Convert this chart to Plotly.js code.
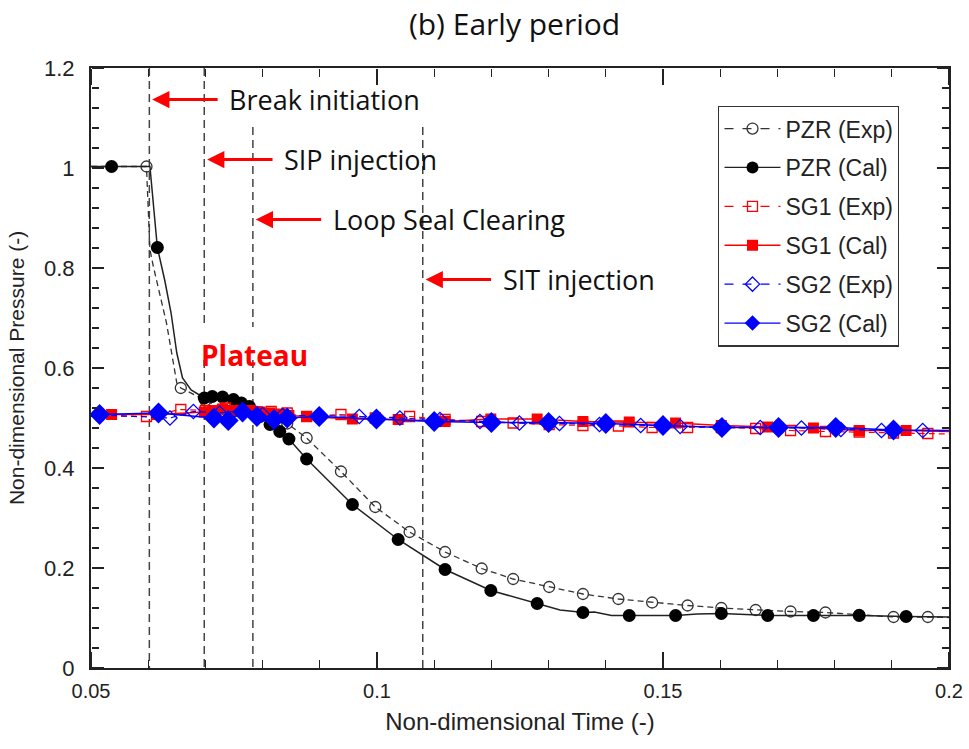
<!DOCTYPE html>
<html>
<head>
<meta charset="utf-8">
<script src="https://cdn.plot.ly/plotly-3.0.1.min.js"></script>
<style>html,body{margin:0;padding:0;background:#fff;}#chart{width:969px;height:749px;}</style>
</head>
<body>
<div id="chart"></div>
<script>
// ---------- data ----------
const seriesNames = ['PZR (Exp)', 'PZR (Cal)', 'SG1 (Exp)', 'SG1 (Cal)', 'SG2 (Exp)', 'SG2 (Cal)'];

// PZR calculated: marker points
const pzrCalTime = [0.0536, 0.0616, 0.0698, 0.0712, 0.0730, 0.0749, 0.0763, 0.0777, 0.0795, 0.0813, 0.0830, 0.0846, 0.0877, 0.0957, 0.1037, 0.1119, 0.1199, 0.1280, 0.1360, 0.1441, 0.1522, 0.1602, 0.1683, 0.1763, 0.1843, 0.1925];
const pzrCalValue = [1.003, 0.841, 0.540, 0.543, 0.542, 0.537, 0.530, 0.523, 0.503, 0.487, 0.473, 0.458, 0.418, 0.327, 0.257, 0.197, 0.155, 0.129, 0.111, 0.105, 0.105, 0.109, 0.105, 0.105, 0.105, 0.103];
// PZR calculated: curve vertices
const pzrCalLineTime = [0.05, 0.0536, 0.0603, 0.0616, 0.0629, 0.0640, 0.0650, 0.0660, 0.0675, 0.0698, 0.0712, 0.0730, 0.0749, 0.0763, 0.0777, 0.0795, 0.0813, 0.0830, 0.0846, 0.0877, 0.0957, 0.1037, 0.1119, 0.1199, 0.1280, 0.1320, 0.1345, 0.1360, 0.1380, 0.1395, 0.1410, 0.1441, 0.1522, 0.1560, 0.1602, 0.1683, 0.1763, 0.1843, 0.1925, 0.2000];
const pzrCalLineValue = [1.003, 1.003, 1.003, 0.841, 0.775, 0.710, 0.630, 0.580, 0.556, 0.540, 0.543, 0.542, 0.537, 0.530, 0.523, 0.503, 0.487, 0.473, 0.458, 0.418, 0.327, 0.257, 0.197, 0.155, 0.129, 0.116, 0.113, 0.111, 0.112, 0.108, 0.105, 0.105, 0.105, 0.108, 0.109, 0.105, 0.105, 0.105, 0.103, 0.102];

// PZR experiment: marker points
const pzrExpTime = [0.0597, 0.0657, 0.0700, 0.0735, 0.0762, 0.0790, 0.0815, 0.0843, 0.0877, 0.0937, 0.0997, 0.1057, 0.1119, 0.1183, 0.1238, 0.1301, 0.1360, 0.1422, 0.1481, 0.1543, 0.1602, 0.1662, 0.1723, 0.1784, 0.1843, 0.1903, 0.1963];
const pzrExpValue = [1.003, 0.560, 0.535, 0.516, 0.520, 0.512, 0.502, 0.489, 0.460, 0.393, 0.322, 0.272, 0.232, 0.199, 0.178, 0.162, 0.148, 0.138, 0.131, 0.125, 0.120, 0.116, 0.113, 0.111, 0.106, 0.102, 0.102];
// PZR experiment: curve vertices
const pzrExpLineTime = [0.05, 0.0597, 0.0603, 0.0609, 0.0632, 0.0650, 0.0657, 0.0700, 0.0735, 0.0762, 0.0790, 0.0815, 0.0843, 0.0877, 0.0937, 0.0997, 0.1057, 0.1119, 0.1183, 0.1238, 0.1301, 0.1360, 0.1422, 0.1481, 0.1543, 0.1602, 0.1662, 0.1723, 0.1784, 0.1843, 0.1903, 0.1963, 0.2000];
const pzrExpLineValue = [1.003, 1.003, 0.837, 0.803, 0.690, 0.570, 0.560, 0.535, 0.516, 0.520, 0.512, 0.502, 0.489, 0.460, 0.393, 0.322, 0.272, 0.232, 0.199, 0.178, 0.162, 0.148, 0.138, 0.131, 0.125, 0.120, 0.116, 0.113, 0.111, 0.106, 0.102, 0.102, 0.101];

// SG1 (same sample times as PZR)
const sg1CalValue = [0.507, 0.507, 0.512, 0.515, 0.518, 0.515, 0.513, 0.515, 0.512, 0.510, 0.508, 0.505, 0.503, 0.498, 0.497, 0.493, 0.498, 0.498, 0.493, 0.492, 0.490, 0.485, 0.482, 0.480, 0.475, 0.475];
const sg1ExpValue = [0.503, 0.517, 0.515, 0.520, 0.515, 0.512, 0.513, 0.510, 0.503, 0.507, 0.500, 0.503, 0.497, 0.493, 0.490, 0.487, 0.485, 0.484, 0.481, 0.481, 0.481, 0.479, 0.475, 0.473, 0.472, 0.470, 0.469];

// SG2
const sg2ExpTime = [0.0638, 0.0679, 0.0725, 0.0765, 0.0800, 0.0835, 0.0900, 0.0969, 0.1040, 0.1110, 0.1180, 0.1249, 0.1319, 0.1389, 0.1461, 0.1530, 0.1600, 0.1670, 0.1742, 0.1811, 0.1882, 0.1954];
const sg2ExpValue = [0.500, 0.513, 0.510, 0.515, 0.507, 0.505, 0.505, 0.503, 0.500, 0.497, 0.493, 0.490, 0.489, 0.487, 0.485, 0.483, 0.482, 0.481, 0.480, 0.477, 0.475, 0.475];
const sg2CalTime = [0.0515, 0.0618, 0.0715, 0.0740, 0.0765, 0.0790, 0.0820, 0.0843, 0.0899, 0.0999, 0.1100, 0.1200, 0.1300, 0.1400, 0.1500, 0.1603, 0.1702, 0.1802, 0.1903];
const sg2CalValue = [0.507, 0.510, 0.500, 0.495, 0.512, 0.503, 0.497, 0.500, 0.503, 0.498, 0.493, 0.491, 0.491, 0.489, 0.485, 0.481, 0.481, 0.481, 0.476];

// values of the SG curves at the plot edges (t = 0.05 and t = 0.2)
const edgeTime = [0.05, 0.2];
const sg1CalEdge = [0.507, 0.473];
const sg1ExpEdge = [0.505, 0.468];
const sg2ExpEdge = [0.507, 0.474];
const sg2CalEdge = [0.507, 0.475];

// event markers
const eventTime = [0.0602, 0.0698, 0.0783, 0.1080];
const eventLabels = ['Break initiation', 'SIP injection', 'Loop Seal Clearing', 'SIT injection'];
const eventLabelLevel = [1.137, 1.017, 0.897, 0.777];

// axis ranges and tick steps
const xRange = [0.05, 0.2], yRange = [0, 1.2];
const xMajor = 0.05, xMinor = 0.01, yMajor = 0.2, yMinor = 0.04;

// ---------- styling ----------
const BLACK = '#000000', RED = '#ff0000', BLUE = '#0000ff';
const withEdges = (t, v, e) => ({x: [edgeTime[0]].concat(t, [edgeTime[1]]), y: [e[0]].concat(v, [e[1]])});

const traces = [];
function addSeries(name, lx, ly, mx, my, color, dash, lwidth, marker) {
  traces.push({x: lx, y: ly, mode: 'lines', showlegend: false, hoverinfo: 'skip',
               line: {color: color, width: lwidth, dash: dash}});
  traces.push({x: mx, y: my, mode: 'markers', showlegend: false, name: name, marker: marker});
}
const sg1c = withEdges(pzrCalTime, sg1CalValue, sg1CalEdge);
const sg1e = withEdges(pzrExpTime, sg1ExpValue, sg1ExpEdge);
const sg2e = withEdges(sg2ExpTime, sg2ExpValue, sg2ExpEdge);
const sg2c = withEdges(sg2CalTime, sg2CalValue, sg2CalEdge);

const mk = {
  pzrExp: {symbol: 'circle-open', size: 11, color: '#333333', line: {width: 1.3, color: '#333333'}},
  pzrCal: {symbol: 'circle', size: 13, color: BLACK},
  sg1Exp: {symbol: 'square-open', size: 10, color: RED, line: {width: 1.3, color: RED}},
  sg1Cal: {symbol: 'square', size: 11, color: RED},
  sg2Exp: {symbol: 'diamond-open', size: 11, color: BLUE, line: {width: 1.3, color: BLUE}},
  sg2Cal: {symbol: 'diamond', size: 16, color: BLUE}
};
addSeries(seriesNames[0], pzrExpLineTime, pzrExpLineValue, pzrExpTime, pzrExpValue, '#333333', '6px,4px', 1.3, mk.pzrExp);
addSeries(seriesNames[1], pzrCalLineTime, pzrCalLineValue, pzrCalTime, pzrCalValue, '#222222', 'solid', 1.5, mk.pzrCal);
addSeries(seriesNames[2], sg1e.x, sg1e.y, pzrExpTime, sg1ExpValue, RED, '6px,4px', 1.2, mk.sg1Exp);
addSeries(seriesNames[3], sg1c.x, sg1c.y, pzrCalTime, sg1CalValue, RED, 'solid', 1.5, mk.sg1Cal);
addSeries(seriesNames[4], sg2e.x, sg2e.y, sg2ExpTime, sg2ExpValue, BLUE, '6px,4px', 1.2, mk.sg2Exp);
addSeries(seriesNames[5], sg2c.x, sg2c.y, sg2CalTime, sg2CalValue, BLUE, 'solid', 1.5, mk.sg2Cal);

// ---- tick axes: inward-pointing major/minor ticks on all four sides ----
// an axis placed on the opposite edge with 'outside' ticks points into the plot
const tickAxes = {};
const tickSpec = [
  // [axis name, overlay of, side, position, dtick, length, width]
  ['xaxis2', 'x', 'top', 0, xMajor, 16, 1.4], ['xaxis3', 'x', 'top', 0, xMinor, 8, 1.1],
  ['xaxis4', 'x', 'bottom', 1, xMajor, 16, 1.4], ['xaxis5', 'x', 'bottom', 1, xMinor, 8, 1.1],
  ['yaxis2', 'y', 'right', 0, yMajor, 12, 1.4], ['yaxis3', 'y', 'right', 0, yMinor, 7, 1.1],
  ['yaxis4', 'y', 'left', 1, yMajor, 12, 1.4], ['yaxis5', 'y', 'left', 1, yMinor, 7, 1.1]
];
tickSpec.forEach(s => {
  const isX = s[1] === 'x';
  tickAxes[s[0]] = {overlaying: s[1], anchor: 'free', position: s[3], side: s[2],
                    range: isX ? xRange : yRange, tickmode: 'linear', tick0: isX ? xRange[0] : yRange[0], dtick: s[4],
                    ticks: 'outside', ticklen: s[5], tickwidth: s[6], tickcolor: '#222222',
                    showticklabels: false, showline: false, showgrid: false, zeroline: false};
  const id = s[0].replace('axis', '');
  traces.push(isX ? {x: [null], y: [null], xaxis: id, yaxis: 'y', mode: 'markers', showlegend: false, hoverinfo: 'skip'}
                  : {x: [null], y: [null], xaxis: 'x', yaxis: id, mode: 'markers', showlegend: false, hoverinfo: 'skip'});
});

// legend carriers
const legendStyles = [
  ['#333333', 'dash', mk.pzrExp], ['#222222', 'solid', mk.pzrCal],
  [RED, 'dash', mk.sg1Exp], [RED, 'solid', mk.sg1Cal],
  [BLUE, 'dash', mk.sg2Exp], [BLUE, 'solid', mk.sg2Cal]
];
seriesNames.forEach((n, i) => {
  const s = legendStyles[i];
  const m = Object.assign({}, s[2], {size: Math.min(s[2].size, 12)});
  traces.push({x: [null], y: [null], name: n, mode: 'lines+markers', legendgroup: 'g' + i,
               line: {color: s[0], dash: s[1], width: 1.3}, marker: m});
});

// vertical dashed event lines (gap where the Plateau label sits)
const gapTop = 0.682, gapBottom = 0.616;
const lineTop = [1.2, 1.2, 1.082, 1.082];
const shapes = [];
eventTime.forEach((t, i) => {
  const dl = {color: '#444444', width: 1.5, dash: '8px,5px'};
  if (i === 1 || i === 2) {
    shapes.push({type: 'line', xref: 'x', yref: 'y', x0: t, x1: t, y0: lineTop[i], y1: gapTop, line: dl, layer: 'below'});
    shapes.push({type: 'line', xref: 'x', yref: 'y', x0: t, x1: t, y0: gapBottom, y1: 0, line: dl, layer: 'below'});
  } else {
    shapes.push({type: 'line', xref: 'x', yref: 'y', x0: t, x1: t, y0: lineTop[i], y1: 0, line: dl, layer: 'below'});
  }
});

const annFont = {family: 'Open Sans, Noto Sans, sans-serif', size: 27, color: '#111111'};
const annotations = [];
const arrowLen = 0.0117, textGap = 0.0014;
eventTime.forEach((t, i) => {
  annotations.push({x: t + 0.0005, y: eventLabelLevel[i], ax: t + 0.0005 + arrowLen, ay: eventLabelLevel[i],
                    xref: 'x', yref: 'y', axref: 'x', ayref: 'y', text: '', showarrow: true,
                    arrowhead: 2, arrowsize: 1.15, arrowwidth: 3, arrowcolor: RED, standoff: 0});
  annotations.push({x: t + 0.0005 + arrowLen + textGap, y: eventLabelLevel[i], xref: 'x', yref: 'y',
                    text: eventLabels[i], showarrow: false, xanchor: 'left', yanchor: 'middle', font: annFont});
});
annotations.push({x: 0.0688, y: 0.626, xref: 'x', yref: 'y', text: '<b>Plateau</b>', showarrow: false,
                  xanchor: 'left', yanchor: 'middle',
                  font: {family: 'Open Sans, Noto Sans, sans-serif', size: 28, color: RED}});

const labelFont = 'Liberation Sans, Arial, sans-serif';
const layout = Object.assign({
  width: 969, height: 749,
  margin: {l: 91, r: 20, t: 68, b: 81},
  paper_bgcolor: '#ffffff', plot_bgcolor: 'rgba(0,0,0,0)',
  title: {text: '(b) Early period', x: 0.531, xanchor: 'center', y: 0.967, yanchor: 'middle',
          font: {family: 'Open Sans, Noto Sans, sans-serif', size: 30, color: '#111111'}},
  xaxis: {range: xRange, tickmode: 'linear', tick0: xRange[0], dtick: xMajor, ticks: '',
          showline: true, linecolor: '#222222', linewidth: 2, mirror: true, showgrid: false, zeroline: false,
          tickfont: {family: labelFont, size: 20, color: '#222222'}, ticklabelstandoff: 4,
          title: {text: 'Non-dimensional Time (-)', standoff: 12,
                  font: {family: labelFont, size: 24, color: '#222222'}}},
  yaxis: {range: yRange, tickmode: 'linear', tick0: yRange[0], dtick: yMajor, ticks: '',
          showline: true, linecolor: '#222222', linewidth: 2, mirror: true, showgrid: false, zeroline: false,
          tickfont: {family: labelFont, size: 22, color: '#222222'}, ticklabelstandoff: 10,
          title: {text: 'Non-dimensional Pressure (-)', standoff: 14,
                  font: {family: labelFont, size: 21, color: '#222222'}}},
  legend: {x: 0.731, y: 0.937, xanchor: 'left', yanchor: 'top', bgcolor: '#ffffff',
           bordercolor: '#333333', borderwidth: 1.3, tracegroupgap: 6, itemwidth: 56,
           font: {family: labelFont, size: 23, color: '#222222'}},
  shapes: shapes,
  annotations: annotations,
  showlegend: true
}, tickAxes);

Plotly.newPlot('chart', traces, layout, {staticPlot: true, displayModeBar: false});
</script>
</body>
</html>
